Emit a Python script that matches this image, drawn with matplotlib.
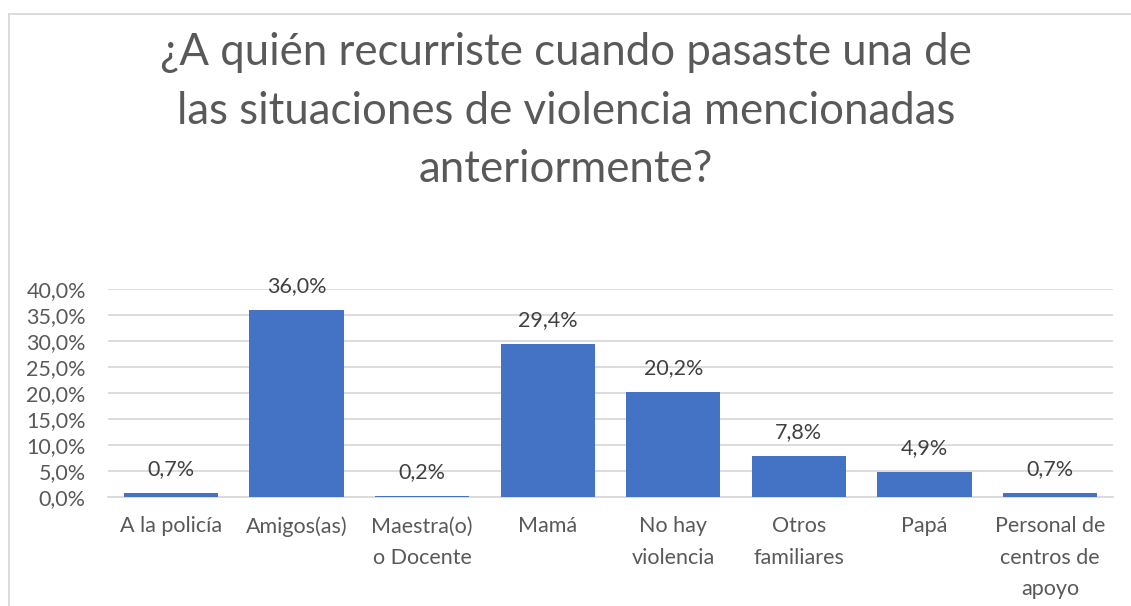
import matplotlib
matplotlib.use("Agg")
import matplotlib.pyplot as plt
from matplotlib.lines import Line2D
from matplotlib.ticker import FuncFormatter, MultipleLocator

categories = ["A la policía", "Amigos(as)", "Maestra(o)\no Docente", "Mamá",
              "No hay\nviolencia", "Otros\nfamiliares", "Papá",
              "Personal de\ncentros de\napoyo"]
values = [0.7, 36.0, 0.2, 29.4, 20.2, 7.8, 4.9, 0.7]
title_lines = ["¿A quién recurriste cuando pasaste una de",
               "las situaciones de violencia mencionadas",
               "anteriormente?"]

W, H = 1131, 606
FONT = "Lato"
plt.rcParams["font.family"] = [FONT, "DejaVu Sans"]

fig = plt.figure(figsize=(W / 100, H / 100), dpi=100)
ax = fig.add_axes([108 / W, 1 - 497 / H, (1113 - 108) / W, (497 - 289) / H])

x = list(range(len(categories)))
ax.bar(x, values, width=0.75, color="#4472C4", zorder=3)
ax.set_xlim(-0.5, len(categories) - 0.5)
ax.set_ylim(0, 40)
ax.yaxis.set_major_locator(MultipleLocator(5))
ax.yaxis.set_major_formatter(FuncFormatter(lambda v, p: f"{v:.1f}%".replace(".", ",")))
ax.grid(axis="y", color="#D9D9D9", linewidth=1.3, zorder=0)
for s in ["top", "right", "left"]:
    ax.spines[s].set_visible(False)
ax.spines["bottom"].set_color("#D9D9D9")
ax.spines["bottom"].set_linewidth(1.3)
ax.tick_params(axis="both", length=0, labelsize=15.5, labelcolor="#595959")
ax.tick_params(axis="y", pad=16)
ax.tick_params(axis="x", pad=14)
ax.set_xticks(x)
ax.set_xticklabels(categories, linespacing=1.72, va="top")

for xi, v in zip(x, values):
    ax.annotate(f"{v:.1f}%".replace(".", ","), (xi, v), xytext=(0, 10),
                textcoords="offset points", ha="center", va="bottom",
                fontsize=15.5, color="#404040")

for i, line in enumerate(title_lines):
    fig.text(566 / W, 1 - (65 + 58.5 * i) / H, line, ha="center", va="baseline",
             fontsize=31.5, color="#595959")

fig.add_artist(Line2D([8.5 / W, 1.0], [1 - 14 / H, 1 - 14 / H], transform=fig.transFigure,
                      color="#D9D9D9", linewidth=1.3))
fig.add_artist(Line2D([8.5 / W, 8.5 / W], [0, 1 - 14 / H], transform=fig.transFigure,
                      color="#D9D9D9", linewidth=1.3))

fig.savefig("out.png", dpi=100)
